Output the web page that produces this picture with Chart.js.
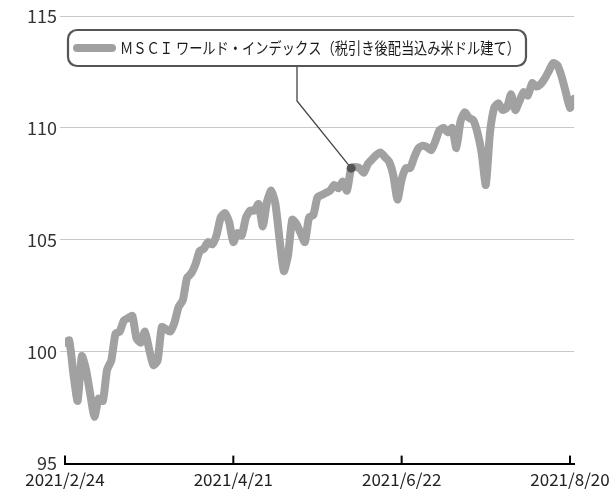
<!DOCTYPE html>
<html>
<head>
<meta charset="utf-8">
<script src="https://cdn.jsdelivr.net/npm/chart.js@4"></script>
<style>
html, body { margin: 0; padding: 0; background: #fff; }
</style>
</head>
<body>
<canvas id="chart" width="616" height="496"></canvas>
<script>
// x positions are trading-day indices; dates only shown at these indices
const tickIndex = [0, 40, 80, 120];
const tickDates = ['2021/2/24', '2021/4/21', '2021/6/22', '2021/8/20'];
const yTicks = [95, 100, 105, 110, 115];
const legendText = 'ＭＳＣＩ ワールド・インデックス（税引き後配当込み米ドル建て）';
const markIndex = 68;

const msciValues = [
    100.4, 100.5, 99.0, 97.8, 99.8, 99.2, 98.1, 97.1, 97.9, 97.8,
    99.2, 99.6, 100.8, 100.9, 101.4, 101.5, 101.6, 100.6, 100.4, 100.9,
    100.1, 99.4, 99.6, 101.1, 101.0, 100.9, 101.3, 102.0, 102.3, 103.3,
    103.5, 103.9, 104.5, 104.6, 104.9, 104.8, 105.2, 106.0, 106.2, 105.8,
    104.9, 105.3, 105.2, 106.0, 106.3, 106.3, 106.6, 105.6, 106.7, 107.2,
    106.6, 105.0, 103.6, 104.3, 105.9, 105.7, 105.3, 104.9, 106.0, 106.1,
    106.9, 107.0, 107.1, 107.2, 107.45, 107.3, 107.6, 107.2, 108.2, 108.25,
    108.2, 108.0, 108.4, 108.6, 108.8, 108.9, 108.7, 108.5, 107.9, 106.8,
    107.7, 108.2, 108.2, 108.7, 109.1, 109.2, 109.15, 109.0, 109.4, 109.9,
    110.0, 109.8, 110.0, 109.1, 110.3, 110.7, 110.45, 110.35, 109.8, 108.9,
    107.45, 109.8, 110.9, 111.1, 110.8, 110.9, 111.5, 110.8, 111.2, 111.6,
    111.45, 112.0, 111.85, 111.95, 112.2, 112.55, 112.9, 112.8, 112.3, 111.6,
    110.9, 111.3
];

const LINE_GREY = '#a0a1a0';
const FONT = '"Noto Sans CJK JP", "Noto Sans", sans-serif';

const overlay = {
    id: 'overlay',
    beforeDatasetsDraw(chart) {
        const { ctx, scales: { x, y } } = chart;
        const mx = x.getPixelForValue(markIndex);
        const my = y.getPixelForValue(msciValues[markIndex]);
        ctx.save();
        ctx.strokeStyle = '#444';
        ctx.lineWidth = 1.3;
        ctx.beginPath();
        ctx.moveTo(mx, my);
        ctx.lineTo(297, 101);
        ctx.lineTo(297, 66);
        ctx.stroke();
        ctx.restore();
    },
    afterDraw(chart) {
        const { ctx, scales: { x, y } } = chart;
        ctx.save();
        // upward tick marks on the x axis
        ctx.strokeStyle = '#000';
        ctx.lineWidth = 2;
        tickIndex.forEach(i => {
            const px = x.getPixelForValue(i);
            ctx.beginPath();
            ctx.moveTo(px, y.bottom);
            ctx.lineTo(px, y.bottom - 8);
            ctx.stroke();
        });
        // legend box
        ctx.fillStyle = '#fff';
        ctx.strokeStyle = '#555';
        ctx.lineWidth = 2.2;
        ctx.beginPath();
        ctx.roundRect(68, 30, 458, 36, 9);
        ctx.fill();
        ctx.stroke();
        ctx.strokeStyle = LINE_GREY;
        ctx.lineWidth = 8;
        ctx.lineCap = 'round';
        ctx.beginPath();
        ctx.moveTo(77, 48);
        ctx.lineTo(112, 48);
        ctx.stroke();
        ctx.fillStyle = '#1a1a1a';
        ctx.font = '16px ' + FONT;
        ctx.textBaseline = 'middle';
        ctx.fillText(legendText, 120, 48, 400);
        ctx.restore();
    }
};

new Chart(document.getElementById('chart'), {
    type: 'line',
    data: {
        datasets: [{
            label: legendText,
            data: msciValues.map((v, i) => ({ x: i, y: v })),
            borderColor: LINE_GREY,
            borderWidth: 8,
            borderJoinStyle: 'round',
            borderCapStyle: 'round',
            tension: 0.2,
            pointRadius: ctx => ctx.dataIndex === markIndex ? 4.5 : 0,
            pointBackgroundColor: '#555',
            pointBorderWidth: 0,
            pointHoverRadius: 0
        }]
    },
    options: {
        responsive: false,
        devicePixelRatio: 1,
        animation: false,
        layout: { padding: { top: 16, right: 41, left: 0, bottom: 0 } },
        plugins: { legend: { display: false }, tooltip: { enabled: false } },
        scales: {
            x: {
                type: 'linear',
                min: 0,
                max: 121,
                afterBuildTicks: axis => { axis.ticks = tickIndex.map(v => ({ value: v })); },
                ticks: {
                    callback: v => tickDates[tickIndex.indexOf(v)],
                    autoSkip: false,
                    maxRotation: 0,
                    color: '#222',
                    font: { family: FONT, size: 17 },
                    padding: 6
                },
                grid: { display: false, drawTicks: false },
                border: { display: true, color: '#000', width: 2 }
            },
            y: {
                min: 95,
                max: 115,
                afterBuildTicks: axis => { axis.ticks = yTicks.map(v => ({ value: v })); },
                afterFit: axis => { axis.width = 65; },
                ticks: {
                    color: '#333',
                    font: { family: FONT, size: 18 },
                    padding: 3
                },
                grid: {
                    color: ctx => ctx.tick && ctx.tick.value === 95 ? 'rgba(0,0,0,0)' : '#c8c8c8',
                    lineWidth: 1,
                    tickLength: 5
                },
                border: { display: false }
            }
        }
    },
    plugins: [overlay]
});
</script>
</body>
</html>
